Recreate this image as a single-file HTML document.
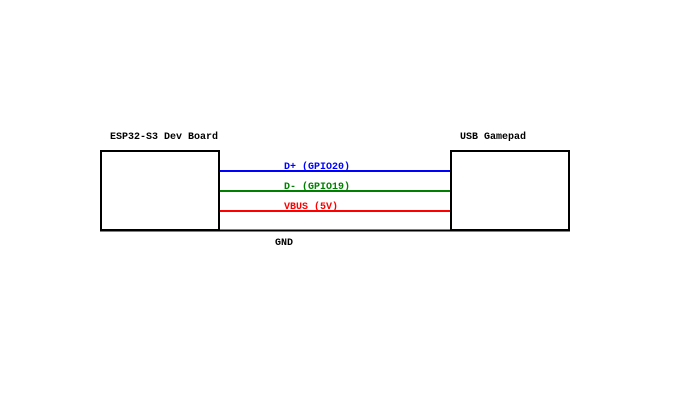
<!DOCTYPE html>
<html><head><meta charset="utf-8"><style>
html,body{margin:0;padding:0;background:#fff;width:700px;height:400px;overflow:hidden}
text{font-family:"Liberation Mono",monospace;font-size:10px;font-weight:bold}
</style></head><body>
<svg width="700" height="400">
<rect x="101" y="151" width="118" height="79" fill="#fff" stroke="#000" stroke-width="2"/>
<rect x="451" y="151" width="118" height="79" fill="#fff" stroke="#000" stroke-width="2"/>
<text x="110" y="139">ESP32-S3 Dev Board</text>
<text x="460" y="139">USB Gamepad</text>
<line x1="220" y1="171" x2="450" y2="171" stroke="#0000ff" stroke-width="2"/>
<line x1="220" y1="191" x2="450" y2="191" stroke="#008000" stroke-width="2"/>
<line x1="220" y1="211" x2="450" y2="211" stroke="#ff0000" stroke-width="2"/>
<line x1="100" y1="230.5" x2="570" y2="230.5" stroke="#000" stroke-width="2"/>
<text x="284" y="169" fill="#0000ff">D+ (GPIO20)</text>
<text x="284" y="189" fill="#008000">D- (GPIO19)</text>
<text x="284" y="209" fill="#ff0000">VBUS (5V)</text>
<text x="275" y="245" fill="#000">GND</text>
</svg>
</body></html>
